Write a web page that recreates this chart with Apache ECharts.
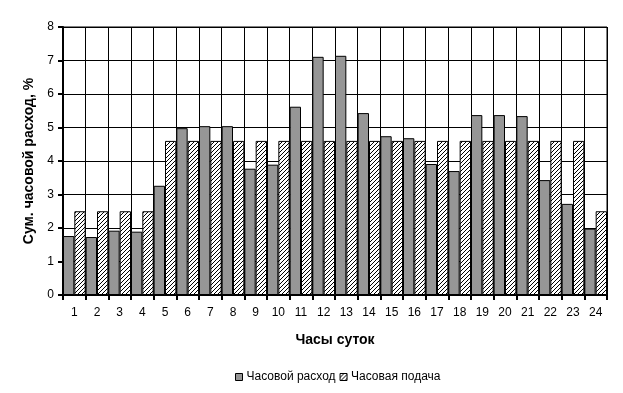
<!DOCTYPE html>
<html><head><meta charset="utf-8">
<script src="https://cdn.jsdelivr.net/npm/echarts@6/dist/echarts.min.js"></script>
<style>html,body{margin:0;padding:0;background:#fff}#c{width:623px;height:393px}</style>
</head><body><div id="c"></div>
<script>
const categories = ['1','2','3','4','5','6','7','8','9','10','11','12','13','14','15','16','17','18','19','20','21','22','23','24'];
const consumption = [1.76,1.73,1.92,1.89,3.26,4.98,5.04,5.04,3.77,3.89,5.62,7.11,7.14,5.43,4.74,4.68,3.91,3.70,5.37,5.37,5.34,3.43,2.72,1.98];
const supply = [2.5,2.5,2.5,2.5,4.6,4.6,4.6,4.6,4.6,4.6,4.6,4.6,4.6,4.6,4.6,4.6,4.6,4.6,4.6,4.6,4.6,4.6,4.6,2.5];
const seriesNames = ['Часовой расход','Часовая подача'];

const cv = document.createElement('canvas');
cv.width = 4; cv.height = 4;
const cx = cv.getContext('2d');
cx.fillStyle = '#fff'; cx.fillRect(0,0,4,4);
cx.fillStyle = '#000';
for (let i = 0; i < 4; i++) { cx.fillRect(i, 3 - i, 1, 1); }
const hatch = { image: cv, repeat: 'repeat' };

const font = 'Liberation Sans, Arial, sans-serif';
const chart = echarts.init(document.getElementById('c'), null, {renderer: 'canvas'});
chart.setOption({
  animation: false,
  backgroundColor: '#fff',
  textStyle: { fontFamily: font },
  grid: { left: 63, right: 16, top: 27, bottom: 98, show: true, borderColor: '#000', borderWidth: 1 },
  legend: {
    top: 366, left: 230, itemWidth: 7, itemHeight: 7, itemGap: 4,
    textStyle: { fontFamily: font, fontSize: 12, color: '#000', padding: [0,0,0,-1] },
    data: [
      { name: seriesNames[0], icon: 'rect', itemStyle: { color: '#969696', borderColor: '#000', borderWidth: 1 } },
      { name: seriesNames[1], icon: 'rect', itemStyle: { color: hatch, borderColor: '#000', borderWidth: 1 } }
    ]
  },
  xAxis: {
    type: 'category', data: categories,
    name: 'Часы суток', nameLocation: 'middle', nameGap: 38,
    nameTextStyle: { fontFamily: font, fontSize: 14, fontWeight: 'bold', color: '#000' },
    axisLine: { lineStyle: { color: '#000', width: 2 } },
    axisTick: { show: true, alignWithLabel: false, length: 5, lineStyle: { color: '#000', width: 2 } },
    axisLabel: { color: '#000', fontSize: 12, fontFamily: font, margin: 12 },
    splitLine: { show: true, lineStyle: { color: '#000', width: 1 } }
  },
  yAxis: {
    type: 'value', min: 0, max: 8, interval: 1,
    name: 'Сум. часовой расход, %', nameLocation: 'middle', nameGap: 26,
    nameTextStyle: { fontFamily: font, fontSize: 14, fontWeight: 'bold', color: '#000' },
    axisLine: { show: true, lineStyle: { color: '#000', width: 2 } },
    axisTick: { show: true, length: 5, lineStyle: { color: '#000', width: 2 } },
    axisLabel: { color: '#000', fontSize: 12, fontFamily: font, margin: 9 },
    splitLine: { show: true, lineStyle: { color: '#000', width: 1 } }
  },
  series: [
    { name: seriesNames[0], type: 'bar', data: consumption, barGap: '0%', barCategoryGap: '0%',
      itemStyle: { color: '#969696', borderColor: '#000', borderWidth: 1 } },
    { name: seriesNames[1], type: 'bar', data: supply, barGap: '0%', barCategoryGap: '0%',
      itemStyle: { color: hatch, borderColor: '#000', borderWidth: 1 } }
  ]
});
</script></body></html>
